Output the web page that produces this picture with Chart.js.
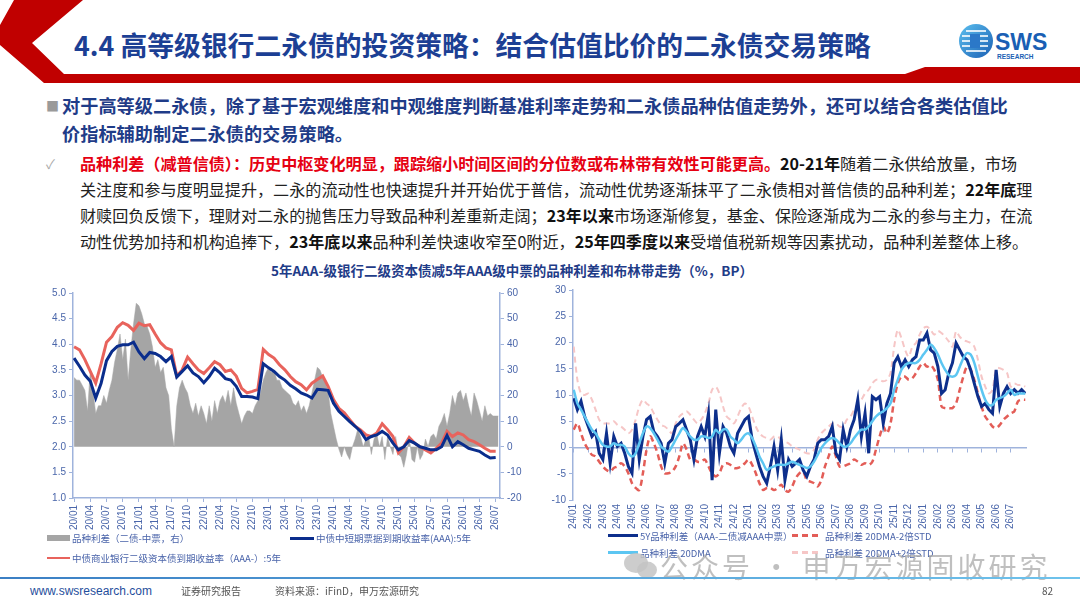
<!DOCTYPE html>
<html><head><meta charset="utf-8">
<script src="https://cdn.jsdelivr.net/npm/chart.js@4.4.1/dist/chart.umd.min.js"></script>
<style>
html,body{margin:0;padding:0;background:#fff;}
body{width:1080px;height:608px;position:relative;overflow:hidden;font-family:"Noto Sans CJK SC","Noto Sans",sans-serif;}
.abs{position:absolute;white-space:nowrap;}
#title{left:74px;top:26px;font-size:26.8px;font-weight:bold;color:#1c3f94;line-height:38px;}
#p1{left:62px;top:91px;font-size:18.2px;font-weight:bold;color:#1f3c88;line-height:28px;}
#p2{left:80px;top:150px;font-size:16.1px;color:#222;line-height:26px;}
#p2 .r{color:#e60012;font-weight:bold;}
#p2 b{color:#111;}
#ctitle{left:0;width:1024px;text-align:center;top:260px;font-size:13.5px;font-weight:bold;color:#1f3c88;line-height:20px;}
.leg{font-size:9.5px;color:#4a64aa;line-height:14px;}
.foot{font-size:10px;color:#555;line-height:14px;}
</style></head>
<body>
<svg class="abs" style="left:0;top:0" width="1080" height="90">
  <path d="M14,0 L83,0 L32,43 L64,74 L905,74 L925,67 L1080,67 L1080,83 L44,83 L0,45 L0,25 Z" fill="#c00000"/>
  <defs><linearGradient id="lg" x1="0" y1="0" x2="1" y2="1"><stop offset="0" stop-color="#5cc0ef"/><stop offset="1" stop-color="#1a5fb4"/></linearGradient></defs>
  <circle cx="976" cy="41" r="17" fill="url(#lg)"/>
  <g stroke="#fff" stroke-width="1.6">
    <line x1="966" y1="31" x2="986" y2="31"/><line x1="962" y1="36" x2="988" y2="36"/><line x1="962" y1="41" x2="988" y2="41"/><line x1="962" y1="46" x2="988" y2="46"/><line x1="966" y1="51" x2="986" y2="51"/>
  </g>
  <rect x="970" y="34" width="10" height="14" fill="#2b78c8"/>
  <text x="995" y="50" font-family="Liberation Sans, Arial" font-weight="bold" font-size="23" fill="#1a5fb4">SWS</text>
  <text x="997" y="59" font-family="Liberation Sans, Arial" font-weight="bold" font-size="6.5" fill="#1a5fb4">RESEARCH</text>
</svg>
<div id="title" class="abs">4.4 高等级银行二永债的投资策略：结合估值比价的二永债交易策略</div>

<div class="abs" style="left:46px;top:96px;font-size:13px;color:#9a9a9a;">■</div>
<div id="p1" class="abs">对于高等级二永债，除了基于宏观维度和中观维度判断基准利率走势和二永债品种估值走势外，还可以结合各类估值比<br>价指标辅助制定二永债的交易策略。</div>

<div class="abs" style="left:46px;top:154px;font-size:13px;color:#aaa;">✓</div>
<div id="p2" class="abs"><span class="r">品种利差（减普信债）：历史中枢变化明显，跟踪缩小时间区间的分位数或布林带有效性可能更高。</span><b>20-21年</b>随着二永供给放量，市场<br>关注度和参与度明显提升，二永的流动性也快速提升并开始优于普信，流动性优势逐渐抹平了二永债相对普信债的品种利差；<b>22年底</b>理<br>财赎回负反馈下，理财对二永的抛售压力导致品种利差重新走阔；<b>23年以来</b>市场逐渐修复，基金、保险逐渐成为二永的参与主力，在流<br>动性优势加持和机构追捧下，<b>23年底以来</b>品种利差快速收窄至0附近，<b>25年四季度以来</b>受增值税新规等因素扰动，品种利差整体上移。</div>

<div id="ctitle" class="abs">5年AAA-级银行二级资本债减5年AAA级中票的品种利差和布林带走势（%，BP）</div>

<canvas id="cl" class="abs" style="left:30px;top:283px;width:500px;height:250px" width="500" height="250"></canvas>
<canvas id="cr" class="abs" style="left:540px;top:280px;width:500px;height:252px" width="500" height="252"></canvas>

<!-- left legend -->
<div class="abs" style="left:47px;top:535px;width:23px;height:6px;background:#a5a5a5"></div>
<div class="abs leg" style="left:72px;top:531px;">品种利差（二债-中票，右）</div>
<div class="abs" style="left:290px;top:537px;width:24px;height:3px;background:#0a2d8c"></div>
<div class="abs leg" style="left:316px;top:531px;">中债中短期票据到期收益率(AAA):5年</div>
<div class="abs" style="left:47px;top:557px;width:23px;height:2px;background:#e8635c"></div>
<div class="abs leg" style="left:72px;top:551px;">中债商业银行二级资本债到期收益率（AAA-）:5年</div>

<!-- right legend -->
<div class="abs" style="left:608px;top:534px;width:30px;height:3px;background:#0d2f8c"></div>
<div class="abs leg" style="left:640px;top:529px;">5Y品种利差（AAA-二债减AAA中票）</div>
<div class="abs" style="left:792px;top:534px;width:28px;height:3px;background:repeating-linear-gradient(90deg,#e35d57 0 6px,transparent 6px 10px)"></div>
<div class="abs leg" style="left:825px;top:529px;">品种利差 20DMA-2倍STD</div>
<div class="abs" style="left:608px;top:551px;width:30px;height:3px;background:#5cc6f2"></div>
<div class="abs leg" style="left:640px;top:546px;">品种利差 20DMA</div>
<div class="abs" style="left:792px;top:551px;width:28px;height:3px;background:repeating-linear-gradient(90deg,#f6c6c6 0 6px,transparent 6px 10px)"></div>
<div class="abs leg" style="left:825px;top:546px;">品种利差 20DMA+2倍STD</div>

<!-- watermark -->
<svg class="abs" style="left:622px;top:550px" width="40" height="32">
  <ellipse cx="14" cy="13" rx="12" ry="10" fill="#c4c4c4" opacity="0.85"/>
  <ellipse cx="25" cy="20" rx="10" ry="8.5" fill="#c4c4c4" opacity="0.85"/>
</svg>
<div class="abs" style="left:660px;top:546px;font-size:28px;letter-spacing:3px;color:rgba(170,170,170,0.75);line-height:40px;">公众号 · 申万宏源固收研究</div>

<!-- footer -->
<div class="abs" style="left:0;top:577px;width:1080px;height:2px;background:linear-gradient(90deg,#3b7fc4,#6fc3ec)"></div>
<div class="abs" style="left:30px;top:584px;font-size:12px;color:#1f4e9c;line-height:14px;font-family:'Liberation Sans Narrow','Liberation Sans',sans-serif;">www.swsresearch.com</div>
<div class="abs foot" style="left:181px;top:584px;">证券研究报告</div>
<div class="abs foot" style="left:275px;top:584px;">资料来源：iFinD，申万宏源研究</div>
<div class="abs foot" style="left:1042px;top:584px;">82</div>

<script>
// ---------- Left chart data ----------
const leftTickLabels = ['20/01','20/04','20/07','20/10','21/01','21/04','21/07','21/10','22/01','22/04','22/07','22/10','23/01','23/04','23/07','23/10','24/01','24/04','24/07','24/10','25/01','25/04','25/07','25/10','26/01','26/04','26/07'];
// monthly, starting 20/01
const yieldTier2AAAminus = [
 3.95,3.89,3.70,3.47,3.24,3.62,4.04,4.15,4.33,4.42,4.37,4.27,
 4.41,4.36,4.38,4.20,4.03,3.93,3.89,3.38,3.50,3.75,3.62,3.50,
 3.43,3.54,3.66,3.60,3.47,3.50,3.38,3.14,3.05,3.08,3.12,3.90,
 3.80,3.73,3.60,3.50,3.37,3.27,3.21,3.11,3.24,3.31,3.38,3.18,
 2.92,2.75,2.66,2.53,2.40,2.33,2.23,2.20,2.27,2.45,2.33,2.20,
 1.88,2.00,2.18,2.07,2.00,1.94,1.88,1.97,2.07,2.30,2.20,2.27,
 2.23,2.14,2.10,2.04,1.97,1.91,1.91];
const yieldMTNAAA = [
 3.73,3.57,3.40,3.28,2.95,3.24,3.68,3.86,3.96,3.99,3.99,4.04,
 3.85,3.72,3.84,3.82,3.76,3.66,3.76,3.36,3.47,3.58,3.44,3.37,
 3.25,3.37,3.53,3.44,3.33,3.30,3.18,2.98,2.98,2.97,2.94,3.62,
 3.54,3.47,3.37,3.30,3.20,3.13,3.05,3.01,2.95,3.12,3.11,3.10,
 2.85,2.69,2.59,2.49,2.40,2.30,2.14,2.20,2.23,2.30,2.23,2.07,
 1.94,2.00,2.12,2.07,2.00,1.97,1.94,1.94,2.00,2.22,2.00,2.10,
 2.04,1.97,1.94,1.91,1.84,1.78,1.79];
// half-monthly, bp
const spreadBp = [
 27,26,26,24,22,14,30,22,13,16,16,20,17,22,26,33,38,44,34,42,26,38,48,56,
 55,52,48,47,44,39,31,34,29,31,23,20,7,0,16,23,26,23,21,16,13,17,12,16,
 13,9,16,10,18,13,18,20,17,22,16,23,17,13,9,12,14,14,13,16,18,21,26,29,
 31,29,30,26,26,23,22,21,20,17,16,18,14,16,13,16,21,26,31,30,27,25,22,13,
 8,3,-1,-4,0,-3,-5,0,3,7,4,0,3,4,-3,3,5,0,4,-5,4,0,-3,4,
 -3,-4,-8,-3,4,-5,-6,0,-5,-3,3,0,4,5,3,8,10,13,8,13,20,16,21,22,
 18,21,16,12,21,18,14,10,16,12,13,12,12,12];

// ---------- Right chart data (weekly, from 24/01) ----------
const rightTickLabels = ['24/01','24/02','24/03','24/04','24/05','24/06','24/07','24/08','24/09','24/10','24/11','24/12','25/01','25/02','25/03','25/04','25/05','25/06','25/07','25/08','25/09','25/10','25/11','25/12','26/01','26/02','26/03','26/04','26/05','26/06','26/07'];
const spread5Y = [
 9.4,7.2,8.8,5.9, 4.0,2.1,3.0,-1.1, -2.3,2.7,-3.0,2.1, 0.2,0.8,-1.1,-3.6,
 -4.9,4.6,-2.3,2.1, 5.3,5.9,3.0,2.1, 0.8,-3.0,0.8,1.5, 4.0,4.6,5.3,3.4,
 1.5,-2.3,2.1,4.0, 2.1,6.5,-6.2,7.2, -1.1,4.0,2.7,0.2, -1.1,2.7,4.0,5.3,
 5.9,1.5,-1.1,-3.6, -5.5,-6.8,-3.6,0.2, -4.3,1.5,-6.2,-2.3, -3.6,-3.0,-2.3,-4.3,
 -5.5,-3.6,-2.3,0.8, 1.5,1.5,2.1,4.0, -1.1,-2.3,3.4,0.2, 3.4,5.3,9.1,2.1,
 6.5,-1.1,9.7,9.1, 9.7,4.6,8.4,10.3, 16.1,17.3,15.4,16.7, 15.4,16.7,17.3,20.5,
 20.5,21.8,18.6,18.0, 15.4,10.3,11.0,14.2, 16.1,19.9,18.6,17.3, 16.7,14.8,12.2,9.7,
 7.8,8.4,7.2,6.5, 14.8,7.8,10.3,11.6, 10.3,11.0,10.3,11.0, 10.3];
const ma20 = [
 11.0,8.4,7.2,5.9, 4.6,3.4,2.7,1.5, 0.5,0.2,0.2,0.8, 0.5,0.5,0.2,-1.1,
 -1.7,-1.1,0.8,2.7, 4.0,3.7,2.7,1.5, 0.2,-0.4,-0.8,0.2, 1.5,2.7,3.7,3.0,
 2.1,1.5,1.5,2.1, 2.1,1.8,2.1,3.4, 2.7,3.4,3.4,2.1, 1.5,0.8,1.5,2.4,
 2.7,1.8,0.2,-1.7, -3.0,-4.3,-3.9,-3.6, -3.3,-3.3,-3.3,-3.0, -2.7,-3.0,-3.3,-3.6,
 -3.9,-3.6,-2.7,-1.4, -0.1,0.8,1.5,1.8, 1.5,0.8,0.2,0.2, 0.8,1.8,2.7,3.4,
 3.4,4.0,5.0,5.9, 6.5,6.9,7.5,8.4, 11.0,12.9,14.8,15.7, 16.1,16.1,16.1,16.7,
 17.7,18.6,19.6,18.9, 17.7,16.1,14.8,13.8, 13.5,13.8,15.4,17.0, 18.0,17.7,16.1,13.5,
 11.0,9.1,8.1,8.1, 9.1,9.4,9.7,10.3, 11.0,10.0,10.3,10.3, 10.3];
const bandLower = [
 3.4,4.6,2.7,0.8, -0.4,-1.4,-1.7,-2.7, -3.6,-4.3,-4.6,-3.9, -3.6,-3.0,-3.6,-4.9,
 -6.8,-7.7,-8.1,-4.9, -0.4,2.1,0.8,-1.1, -3.6,-4.9,-4.9,-4.6, -3.6,-1.7,0.8,-0.4,
 -2.3,-2.3,-2.7,-2.7, -2.3,-3.6,-4.9,-5.5, -4.9,-3.3,-3.0,-3.3, -3.9,-3.9,-3.6,-3.0,
 -2.3,-3.3,-4.9,-6.8, -8.1,-7.7,-7.7,-8.1, -7.7,-7.1,-8.1,-8.4, -7.4,-5.8,-4.9,-4.6,
 -6.2,-6.5,-6.8,-7.4, -6.2,-3.6,-1.7,0.2, -1.7,-3.6,-3.6,-3.3, -3.0,-2.3,-2.7,-3.3,
 -3.0,-3.3,-2.7,-0.4, 2.1,4.0,2.7,4.6, 9.1,12.2,13.5,13.5, 12.9,13.2,14.2,15.4,
 16.1,15.4,15.7,14.8, 12.9,7.8,7.5,7.5, 7.5,8.4,11.0,13.5, 15.4,14.8,12.9,10.3,
 7.8,5.9,5.0,4.0, 3.7,4.3,5.3,5.9, 6.5,6.9,8.8,9.1, 9.1];
const bandUpper = [
 19.2,12.9,10.3,10.0, 10.3,9.1,7.2,5.3, 4.6,4.6,4.6,5.0, 4.3,4.0,3.4,2.7,
 3.4,5.3,7.8,9.1, 8.4,7.8,6.5,5.3, 4.3,4.0,3.4,2.7, 4.6,5.9,6.5,6.9,
 6.2,5.3,4.6,5.3, 6.5,8.4,11.0,11.6, 10.3,7.8,5.9,5.3, 4.6,5.9,7.5,8.4,
 7.8,5.9,4.0,2.7, 2.1,1.8,1.5,2.1, 2.1,1.5,1.1,0.8, 0.2,-0.1,-0.4,-0.8,
 -1.1,-1.1,-0.4,1.5, 2.7,3.4,4.0,4.6, 4.6,4.0,4.0,5.3, 5.9,7.2,8.4,9.1,
 10.3,11.0,12.2,12.9, 12.9,12.6,12.9,14.2, 19.2,22.4,20.8,18.6, 17.3,19.2,19.9,21.5,
 22.7,23.0,22.4,21.5, 22.2,21.8,21.1,20.2, 19.2,22.1,21.1,20.5, 20.2,19.9,19.2,16.7,
 13.5,11.6,10.3,11.0, 15.1,15.1,14.8,14.2, 11.6,12.2,11.9,11.9, 11.6];

// ---------- shared style ----------
const AXIS = '#9fb3dc';
const TICKC = '#4a66aa';
const TFONT = {family:'Liberation Sans, Arial, sans-serif', size:10};

const pts = (arr, step) => arr.map((v, i) => ({x: i * step, y: v}));

// ---------- Left chart ----------
new Chart(document.getElementById('cl'), {
  type: 'line',
  data: { datasets: [
    {label:'中债中短期票据到期收益率(AAA):5年', data: pts(yieldMTNAAA, 1), borderColor:'#0a2d8c', borderWidth:3, pointRadius:0, yAxisID:'y', order:0},
    {label:'中债商业银行二级资本债到期收益率（AAA-）:5年', data: pts(yieldTier2AAAminus, 1), borderColor:'#e8635c', borderWidth:3, pointRadius:0, yAxisID:'y', order:1},
    {label:'品种利差（二债-中票，右）', data: pts(spreadBp, 0.5), borderColor:'#a5a5a5', backgroundColor:'#a5a5a5', borderWidth:0.5, pointRadius:0, fill:'origin', yAxisID:'y2', order:2}
  ]},
  options: {
    responsive:false, animation:false, devicePixelRatio: window.devicePixelRatio || 1,
    plugins:{legend:{display:false}, tooltip:{enabled:false}},
    layout:{padding:{top:10, left:0, right:0, bottom:0}},
    scales:{
      x:{type:'linear', min:-0.2, max:78.8,
         afterBuildTicks: s => { s.ticks = leftTickLabels.map((_, i) => ({value: i * 3})); },
         ticks:{autoSkip:false, minRotation:90, maxRotation:90, color:TICKC, font:TFONT, padding:3,
                callback: v => leftTickLabels[Math.round(v / 3)] || ''},
         grid:{drawOnChartArea:false, drawTicks:true, tickLength:4, color:AXIS},
         border:{color:AXIS, width:1.5},
         afterFit: s => { s.height = 35; }},
      y:{position:'left', min:1, max:5,
         afterBuildTicks: s => { const t=[]; for (let v=1; v<=5.001; v+=0.5) t.push({value:+v.toFixed(1)}); s.ticks=t; },
         ticks:{color:TICKC, font:TFONT, callback: v => v.toFixed(1)},
         grid:{drawOnChartArea:false, tickLength:4, color:AXIS},
         border:{color:AXIS, width:1.5},
         afterFit: s => { s.width = 43; }},
      y2:{position:'right', min:-20, max:60,
         afterBuildTicks: s => { const t=[]; for (let v=-20; v<=60; v+=10) t.push({value:v}); s.ticks=t; },
         ticks:{color:TICKC, font:TFONT},
         grid:{drawOnChartArea:false, tickLength:4, color:AXIS},
         border:{color:AXIS, width:1.5},
         afterFit: s => { s.width = 30; }}
    }
  }
});

// ---------- Right chart ----------
new Chart(document.getElementById('cr'), {
  type: 'line',
  data: { datasets: [
    {label:'品种利差 20DMA', data: pts(ma20, 0.25), borderColor:'#5cc6f2', borderWidth:2.5, pointRadius:0, order:0, tension:0.3},
    {label:'5Y品种利差（AAA-二债减AAA中票）', data: pts(spread5Y, 0.25), borderColor:'#0d2f8c', borderWidth:3, pointRadius:0, order:1},
    {label:'品种利差 20DMA-2倍STD', data: pts(bandLower, 0.25), borderColor:'#e35d57', borderWidth:2.5, borderDash:[6,4], pointRadius:0, order:2, tension:0.3},
    {label:'品种利差 20DMA+2倍STD', data: pts(bandUpper, 0.25), borderColor:'#f6c6c6', borderWidth:2, borderDash:[6,4], pointRadius:0, order:3, tension:0.3}
  ]},
  options: {
    responsive:false, animation:false, devicePixelRatio: window.devicePixelRatio || 1,
    plugins:{legend:{display:false}, tooltip:{enabled:false}},
    layout:{padding:{top:10, left:0, right:14, bottom:0}},
    scales:{
      x:{type:'linear', min:-0.05, max:31.05,
         afterBuildTicks: s => { s.ticks = rightTickLabels.map((_, i) => ({value: i})); },
         ticks:{autoSkip:false, minRotation:90, maxRotation:90, color:TICKC, font:TFONT, padding:4,
                callback: v => rightTickLabels[Math.round(v)] || ''},
         grid:{display:false, drawTicks:false},
         border:{display:false},
         afterFit: s => { s.height = 32; }},
      x0:{type:'linear', min:-0.05, max:31.05, position:{y:0},
         afterBuildTicks: s => { s.ticks = rightTickLabels.map((_, i) => ({value: i})); },
         ticks:{display:false},
         grid:{drawOnChartArea:false, drawTicks:true, tickLength:4, color:AXIS},
         border:{color:AXIS, width:1.5}},
      y:{position:'left', min:-10, max:30,
         afterBuildTicks: s => { const t=[]; for (let v=-10; v<=30; v+=5) t.push({value:v}); s.ticks=t; },
         ticks:{color:TICKC, font:TFONT},
         grid:{drawOnChartArea:false, tickLength:4, color:AXIS},
         border:{color:AXIS, width:1.5},
         afterFit: s => { s.width = 33; }}
    }
  }
});
</script>
</body></html>
